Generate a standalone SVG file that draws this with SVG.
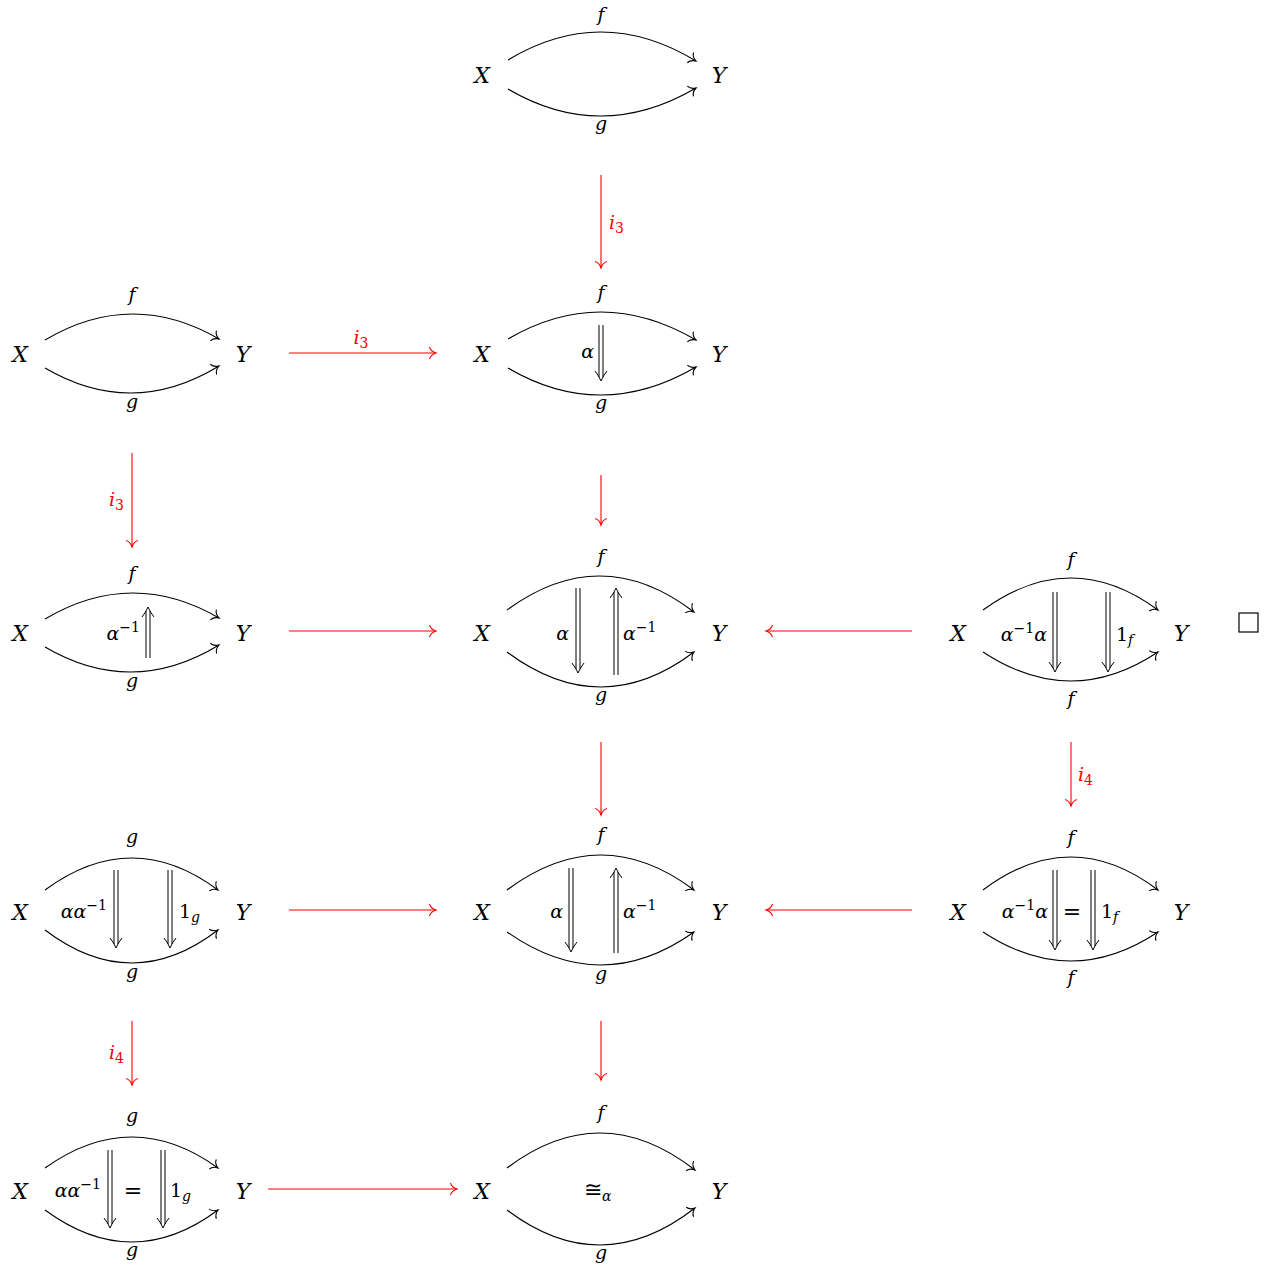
<svg xmlns="http://www.w3.org/2000/svg" width="1273" height="1266" viewBox="0 0 1273 1266">
<style>
text{font-family:"DejaVu Serif","Liberation Serif",serif;font-style:italic;fill:#000}
.m{font-size:22px}
.l{font-size:19px}
.s{font-size:14px}
.n{font-style:normal}
.e{font-size:22px;font-style:normal}
.r{fill:#ff0000}
.c{fill:none;stroke:#000;stroke-width:1.1;marker-end:url(#hb)}
.ra{fill:none;stroke:#ff0000;stroke-width:1.1;marker-end:url(#hr)}
.dc{fill:none;stroke:#000;stroke-width:1}
</style>
<defs>
<marker id="hb" markerUnits="userSpaceOnUse" orient="auto" refX="0" refY="0" markerWidth="20" markerHeight="20" viewBox="-10 -10 20 20" overflow="visible">
<path d="M-6.5,-6 C-5.5,-2.5 -2,-0.6 0,0 C-2,0.6 -5.5,2.5 -6.5,6" fill="none" stroke="#000" stroke-width="1.1"/>
</marker>
<marker id="hr" markerUnits="userSpaceOnUse" orient="auto" refX="0" refY="0" markerWidth="20" markerHeight="20" viewBox="-10 -10 20 20" overflow="visible">
<path d="M-6.5,-6 C-5.5,-2.5 -2,-0.6 0,0 C-2,0.6 -5.5,2.5 -6.5,6" fill="none" stroke="#ff0000" stroke-width="1.1"/>
</marker>
</defs>

<g id="n01">
<text class="m" x="482" y="83" text-anchor="middle">X</text>
<text class="m" x="719" y="83" text-anchor="middle">Y</text>
<path class="c" d="M508,60 Q601,3.5 696,61"/>
<path class="c" d="M508,89 Q601,143.5 696,88"/>
<text class="l" x="601" y="21" text-anchor="middle">f</text>
<text class="l" x="601" y="130" text-anchor="middle">g</text>
</g>

<g id="n10">
<text class="m" x="20" y="362" text-anchor="middle">X</text>
<text class="m" x="243" y="362" text-anchor="middle">Y</text>
<path class="c" d="M45,340 Q132,288.5 219,339"/>
<path class="c" d="M45,368 Q132,419 219,366"/>
<text class="l" x="132" y="301" text-anchor="middle">f</text>
<text class="l" x="132" y="408" text-anchor="middle">g</text>
</g>

<g id="n11">
<text class="m" x="482" y="362" text-anchor="middle">X</text>
<text class="m" x="719" y="362" text-anchor="middle">Y</text>
<path class="c" d="M508,339 Q601,284.5 696,340"/>
<path class="c" d="M508,368 Q601,422.5 696,367"/>
<text class="l" x="601" y="299" text-anchor="middle">f</text>
<text class="l" x="601" y="409" text-anchor="middle">g</text>
<path class="dc" d="M599,325V377 M603,325V377 M595,371 Q599,376 601,381 Q603,376 607,371"/>
<text class="l" x="594" y="358" text-anchor="end">α</text>
</g>

<g id="n20">
<text class="m" x="20" y="641" text-anchor="middle">X</text>
<text class="m" x="243" y="641" text-anchor="middle">Y</text>
<path class="c" d="M45,619 Q132,567.5 219,618"/>
<path class="c" d="M45,647 Q132,698 219,645"/>
<text class="l" x="132" y="580" text-anchor="middle">f</text>
<text class="l" x="132" y="687" text-anchor="middle">g</text>
<path class="dc" d="M146,658V611 M150,658V611 M142,617 Q146,612 148,607 Q150,612 154,617"/>
<text class="l" x="140" y="640" text-anchor="end">α<tspan class="s n" dy="-8">−1</tspan></text>
</g>

<g id="n21">
<text class="m" x="482" y="641" text-anchor="middle">X</text>
<text class="m" x="719" y="641" text-anchor="middle">Y</text>
<path class="c" d="M507,610 Q601,541 694,612"/>
<path class="c" d="M507,652 Q601,722 694,652"/>
<text class="l" x="601" y="563" text-anchor="middle">f</text>
<text class="l" x="601" y="701" text-anchor="middle">g</text>
<path class="dc" d="M576,588V669 M580,588V669 M572,663 Q576,668 578,673 Q580,668 584,663"/>
<path class="dc" d="M614,675V592 M618,675V592 M610,598 Q614,593 616,588 Q618,593 622,598"/>
<text class="l" x="569" y="640" text-anchor="end">α</text>
<text class="l" x="623" y="640">α<tspan class="s n" dy="-8">−1</tspan></text>
</g>

<g id="n22">
<text class="m" x="958" y="641" text-anchor="middle">X</text>
<text class="m" x="1181" y="641" text-anchor="middle">Y</text>
<path class="c" d="M983,610 Q1071,546 1158,610"/>
<path class="c" d="M983,652 Q1071,710 1158,652"/>
<text class="l" x="1071" y="566" text-anchor="middle">f</text>
<text class="l" x="1071" y="705" text-anchor="middle">f</text>
<path class="dc" d="M1053,592V668 M1057,592V668 M1049,662 Q1053,667 1055,672 Q1057,667 1061,662"/>
<path class="dc" d="M1106,592V668 M1110,592V668 M1102,662 Q1106,667 1108,672 Q1110,667 1114,662"/>
<text class="l" x="1047" y="641" text-anchor="end">α<tspan class="s n" dy="-8">−1</tspan><tspan dy="8">α</tspan></text>
<text class="l" x="1116" y="641"><tspan class="n">1</tspan><tspan class="s" dy="4">f</tspan></text>
</g>

<g id="n30">
<text class="m" x="20" y="920" text-anchor="middle">X</text>
<text class="m" x="243" y="920" text-anchor="middle">Y</text>
<path class="c" d="M45,890 Q132,826 218,890"/>
<path class="c" d="M45,930 Q132,996 218,930"/>
<text class="l" x="132" y="843" text-anchor="middle">g</text>
<text class="l" x="132" y="978" text-anchor="middle">g</text>
<path class="dc" d="M114,870V944 M118,870V944 M110,938 Q114,943 116,948 Q118,943 122,938"/>
<path class="dc" d="M168,870V944 M172,870V944 M164,938 Q168,943 170,948 Q172,943 176,938"/>
<text class="l" x="107" y="918" text-anchor="end">αα<tspan class="s n" dy="-8">−1</tspan></text>
<text class="l" x="179" y="918"><tspan class="n">1</tspan><tspan class="s" dy="4">g</tspan></text>
</g>

<g id="n31">
<text class="m" x="482" y="920" text-anchor="middle">X</text>
<text class="m" x="719" y="920" text-anchor="middle">Y</text>
<path class="c" d="M507,890 Q601,820 694,890"/>
<path class="c" d="M507,932 Q601,998 694,932"/>
<text class="l" x="601" y="841" text-anchor="middle">f</text>
<text class="l" x="601" y="980" text-anchor="middle">g</text>
<path class="dc" d="M569,868V948 M573,868V948 M565,942 Q569,947 571,952 Q573,947 577,942"/>
<path class="dc" d="M614,953V872 M618,953V872 M610,878 Q614,873 616,868 Q618,873 622,878"/>
<text class="l" x="563" y="918" text-anchor="end">α</text>
<text class="l" x="623" y="918">α<tspan class="s n" dy="-8">−1</tspan></text>
</g>

<g id="n32">
<text class="m" x="958" y="920" text-anchor="middle">X</text>
<text class="m" x="1181" y="920" text-anchor="middle">Y</text>
<path class="c" d="M983,890 Q1071,824 1158,890"/>
<path class="c" d="M983,932 Q1071,990 1158,932"/>
<text class="l" x="1071" y="844" text-anchor="middle">f</text>
<text class="l" x="1071" y="984" text-anchor="middle">f</text>
<path class="dc" d="M1053,870V946 M1057,870V946 M1049,940 Q1053,945 1055,950 Q1057,945 1061,940"/>
<path class="dc" d="M1091,870V946 M1095,870V946 M1087,940 Q1091,945 1093,950 Q1095,945 1099,940"/>
<text class="e" x="1072" y="919" text-anchor="middle">=</text>
<text class="l" x="1048" y="918" text-anchor="end">α<tspan class="s n" dy="-8">−1</tspan><tspan dy="8">α</tspan></text>
<text class="l" x="1101" y="918"><tspan class="n">1</tspan><tspan class="s" dy="4">f</tspan></text>
</g>

<g id="n40">
<text class="m" x="20" y="1199" text-anchor="middle">X</text>
<text class="m" x="243" y="1199" text-anchor="middle">Y</text>
<path class="c" d="M45,1168 Q132,1106 218,1168"/>
<path class="c" d="M45,1210 Q132,1274 218,1210"/>
<text class="l" x="132" y="1122" text-anchor="middle">g</text>
<text class="l" x="132" y="1256" text-anchor="middle">g</text>
<path class="dc" d="M108,1150V1224 M112,1150V1224 M104,1218 Q108,1223 110,1228 Q112,1223 116,1218"/>
<path class="dc" d="M161,1150V1224 M165,1150V1224 M157,1218 Q161,1223 163,1228 Q165,1223 169,1218"/>
<text class="e" x="133" y="1198" text-anchor="middle">=</text>
<text class="l" x="101" y="1197" text-anchor="end">αα<tspan class="s n" dy="-8">−1</tspan></text>
<text class="l" x="170" y="1197"><tspan class="n">1</tspan><tspan class="s" dy="4">g</tspan></text>
</g>

<g id="n41">
<text class="m" x="482" y="1199" text-anchor="middle">X</text>
<text class="m" x="719" y="1199" text-anchor="middle">Y</text>
<path class="c" d="M507,1168 Q601,1097 695,1170"/>
<path class="c" d="M507,1210 Q601,1281 695,1208"/>
<text class="l" x="601" y="1119" text-anchor="middle">f</text>
<text class="l" x="601" y="1259" text-anchor="middle">g</text>
<text class="l" x="584" y="1197"><tspan class="e">≅</tspan><tspan class="s" dy="4">α</tspan></text>
</g>

<g id="qed">
<rect x="1239" y="613" width="19" height="19" fill="none" stroke="#000" stroke-width="1.2"/>
</g>

<g id="connectors">
<path class="ra" d="M601,175V268"/>
<text class="l r" x="609" y="229">i<tspan class="s n" dy="4">3</tspan></text>
<path class="ra" d="M289,353H436"/>
<text class="l r" x="361" y="344" text-anchor="middle">i<tspan class="s n" dy="4">3</tspan></text>
<path class="ra" d="M132,453V547"/>
<text class="l r" x="124" y="506" text-anchor="end">i<tspan class="s n" dy="4">3</tspan></text>
<path class="ra" d="M601,475V525"/>
<path class="ra" d="M289,631H436"/>
<path class="ra" d="M912,631H766"/>
<path class="ra" d="M601,742V815"/>
<path class="ra" d="M1071,742V806"/>
<text class="l r" x="1078" y="781">i<tspan class="s n" dy="4">4</tspan></text>
<path class="ra" d="M289,910H436"/>
<path class="ra" d="M912,910H766"/>
<path class="ra" d="M132,1021V1085"/>
<text class="l r" x="124" y="1059" text-anchor="end">i<tspan class="s n" dy="4">4</tspan></text>
<path class="ra" d="M601,1021V1080"/>
<path class="ra" d="M268,1189H457"/>
</g>
</svg>
